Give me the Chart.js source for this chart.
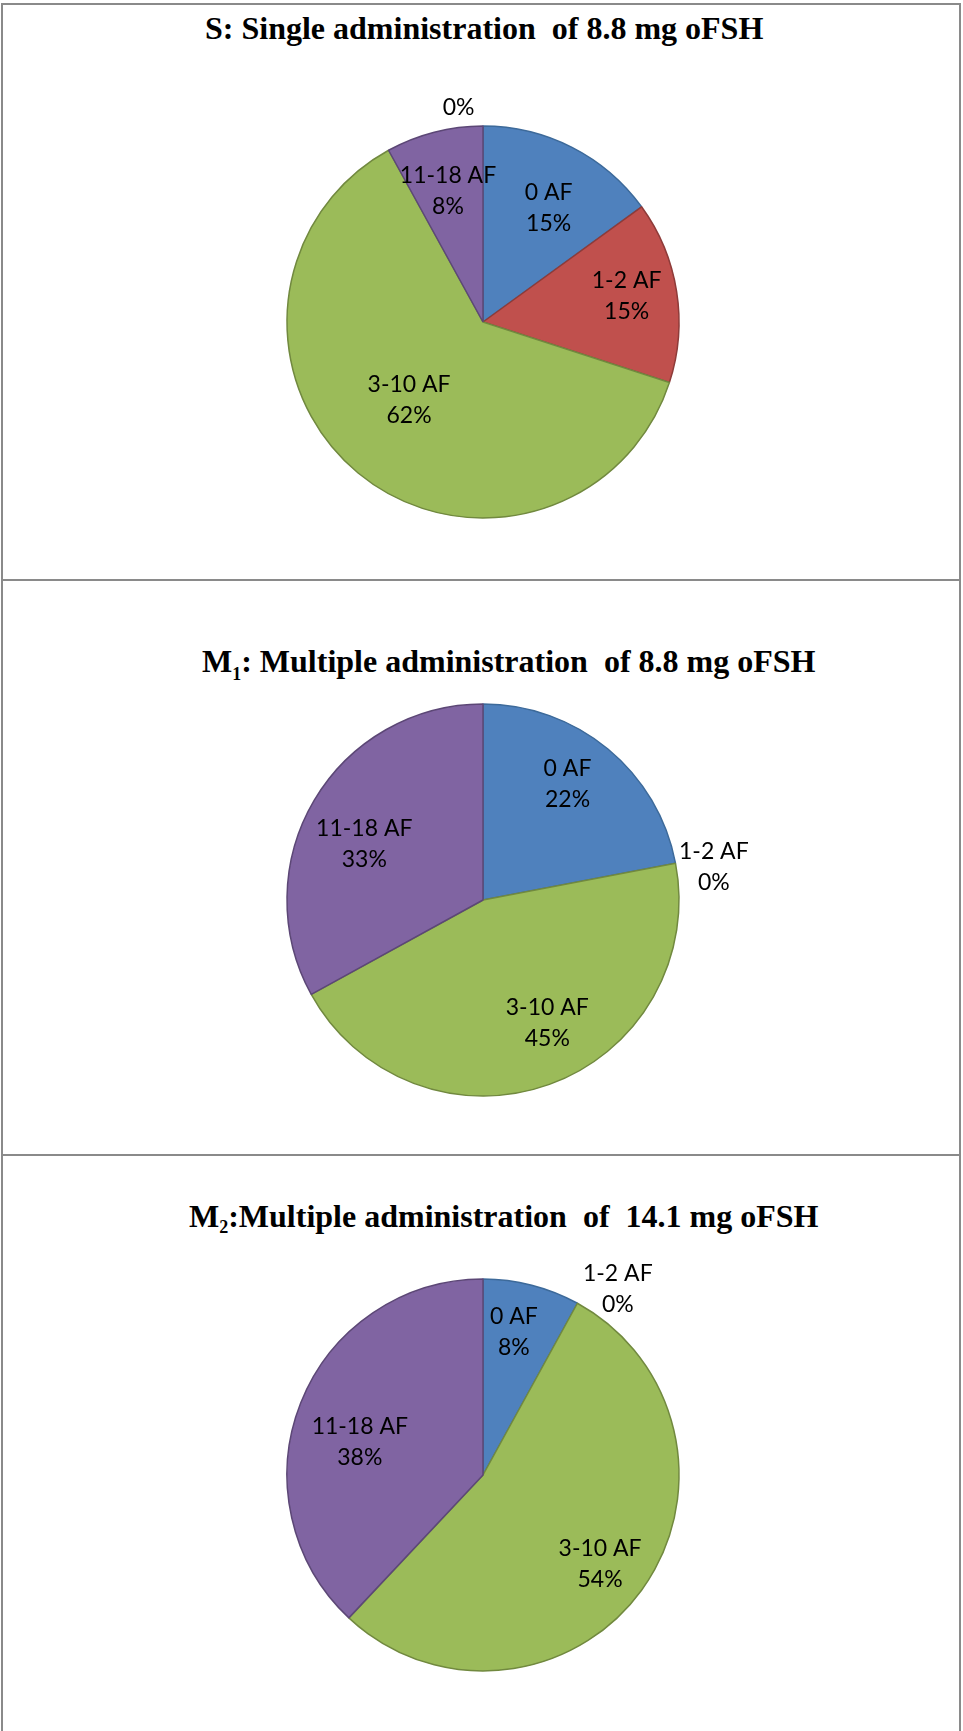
<!DOCTYPE html>
<html>
<head>
<meta charset="utf-8">
<script src="https://cdn.jsdelivr.net/npm/chart.js@4.4.1/dist/chart.umd.min.js"></script>
<style>
  html, body { margin: 0; padding: 0; background: #fff; }
  #page { position: relative; width: 963px; height: 1731px; overflow: hidden; background: #fff; }
  .rule { position: absolute; background: #8a8a8a; }
  .title {
    position: absolute;
    font-family: "Liberation Serif", "Times New Roman", serif;
    font-weight: bold;
    font-size: 32px;
    line-height: 32px;
    color: #000;
    white-space: pre;
  }
  .title .sub { font-size: 18px; position: relative; vertical-align: baseline; }
  canvas { position: absolute; left: 0; }
</style>
</head>
<body>
<div id="page">
  <!-- table frame -->
  <div class="rule" style="left:1px; top:3px; width:960px; height:2px;"></div>
  <div class="rule" style="left:1px; top:3px; width:2px; height:1728px;"></div>
  <div class="rule" style="left:959px; top:3px; width:2px; height:1728px;"></div>
  <div class="rule" style="left:1px; top:579px; width:960px; height:2px;"></div>
  <div class="rule" style="left:1px; top:1154px; width:960px; height:2px;"></div>

  <div class="title" style="left:205px; top:12px;">S: Single administration  of 8.8 mg oFSH</div>
  <div class="title" style="left:202px; top:645px;">M<span class="sub" style="top:8px">1</span>: Multiple administration  of 8.8 mg oFSH</div>
  <div class="title" style="left:189px; top:1200px;">M<span class="sub" style="top:6px">2</span>:Multiple administration  of  14.1 mg oFSH</div>

  <canvas id="pieS" width="963" height="480" style="top:82px;"></canvas>
  <canvas id="pieM1" width="963" height="480" style="top:660px;"></canvas>
  <canvas id="pieM2" width="963" height="480" style="top:1235px;"></canvas>
</div>

<script>
// antral follicle classes, share of animals (%)
const categories = ["0 AF", "1-2 AF", "3-10 AF", "11-18 AF"];
// the single-dose sheet carries an extra blank class, shown only as "0%"
const singleCategories = ["0 AF", "1-2 AF", "3-10 AF", "11-18 AF", ""];

const singleValues = [15, 15, 62, 8, 0];      // S: 8.8 mg, single
const multi88Values = [22, 0, 45, 33];        // M1: 8.8 mg, multiple
const multi141Values = [8, 0, 54, 38];        // M2: 14.1 mg, multiple

const fillColors = ["#4F81BD", "#C0504D", "#9BBB59", "#8064A2", "#4BACC6"];
const edgeColors = ["#3D6A9A", "#8E3B39", "#71893F", "#5C4776", "#3A8DA3"];

// draws "category / value%" labels on each slice
// place[i] = [fraction of radius, angle nudge in degrees]
const sliceLabels = {
  id: "sliceLabels",
  afterDatasetsDraw(chart, args, opts) {
    const ctx = chart.ctx;
    const meta = chart.getDatasetMeta(0);
    const values = chart.data.datasets[0].data;
    ctx.save();
    ctx.font = "23px Lato";
    ctx.fillStyle = "#000";
    ctx.textAlign = "center";
    ctx.textBaseline = "middle";
    meta.data.forEach((arc, i) => {
      const p = arc.getProps(["x", "y", "startAngle", "endAngle", "outerRadius"], true);
      const place = opts.place[i] || [0.7, 0];
      const a = (p.startAngle + p.endAngle) / 2 + place[1] * Math.PI / 180;
      const r = p.outerRadius * place[0];
      const cx = p.x + Math.cos(a) * r;
      const cy = p.y + Math.sin(a) * r;
      const name = chart.data.labels[i];
      const lines = name ? [name, values[i] + "%"] : [values[i] + "%"];
      const lh = 31;
      lines.forEach((t, k) => {
        ctx.fillText(t, cx, cy + (k - (lines.length - 1) / 2) * lh);
      });
    });
    ctx.restore();
  }
};

function makePie(id, labels, values, place) {
  return new Chart(document.getElementById(id), {
    type: "pie",
    data: {
      labels: labels,
      datasets: [{
        data: values,
        backgroundColor: fillColors.slice(0, values.length),
        borderColor: edgeColors.slice(0, values.length),
        borderWidth: 1.5,
        hoverOffset: 0
      }]
    },
    options: {
      responsive: false,
      animation: false,
      events: [],
      radius: 196,
      layout: { padding: { left: 3 } },
      plugins: {
        legend: { display: false },
        tooltip: { enabled: false },
        sliceLabels: { place: place }
      }
    },
    plugins: [sliceLabels]
  });
}

makePie("pieS", singleCategories, singleValues,
  [[0.67, 3], [0.745, -1.4], [0.55, 3.7], [0.69, -0.6], [1.10, -6.5]]);
makePie("pieM1", categories, multi88Values,
  [[0.73, -3.4], [1.19, 2.6], [0.71, -7.7], [0.67, -5.3]]);
makePie("pieM2", categories, multi141Values,
  [[0.745, -2.2], [1.17, 7.2], [0.75, 1.2], [0.65, -6.8]]);
</script>
</body>
</html>
